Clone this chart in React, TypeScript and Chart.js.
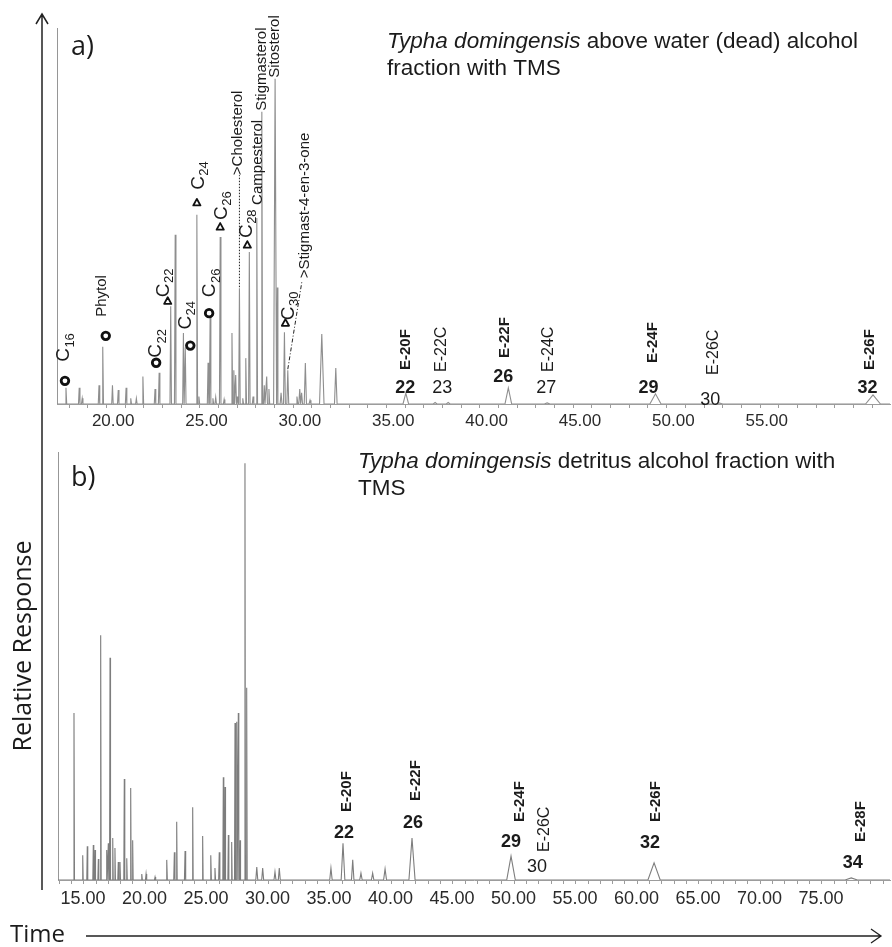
import React, { useEffect, useRef } from 'react';
import { Chart, registerables } from 'chart.js';

Chart.register(...registerables);

const SANS = '"Liberation Sans", Arial, sans-serif';
const ROUND = '"Open Sans", "Liberation Sans", sans-serif';
const INK = '#1b1b1b';

// ---------- panel a) above water (dead) ----------
const A_RANGE = [16.35, 60.96];
// retention time (min), relative response (%), half width (min)
const A_RT = [16.83, 17.54, 17.7, 18.6, 18.8, 19.32, 19.63, 20.05, 20.3, 20.6, 20.95, 21.6, 21.82, 22.44, 22.68, 23.12, 23.22, 23.84, 23.95, 24.44, 24.55, 24.7, 24.85, 25.09, 25.3, 25.72, 25.82, 25.92, 26.0, 26.12, 26.3, 26.46, 26.65, 26.85, 27.05, 27.32, 27.45, 27.58, 27.7, 28.03, 28.15, 28.35, 28.53, 28.71, 29.2, 29.35, 29.45, 29.65, 29.9, 30.53, 31.28, 35.03, 36.6, 37.3, 40.52, 42.6, 48.4, 51.8, 60.05];
const A_HEIGHT = [4.3, 4.3, 1.5, 5, 15.2, 5, 3.7, 4.3, 1.5, 1.5, 7.3, 4, 8.3, 26, 45, 18.9, 15, 50.3, 2, 11, 23.1, 1.5, 1.8, 44.4, 1.2, 18.9, 9, 7.7, 2, 30.8, 1.5, 12.2, 40.4, 2, 49.5, 77.7, 5, 7.3, 4, 86.5, 31, 3, 19.1, 9, 2, 4, 3, 10.9, 1, 18.6, 9.6, 2.9, 0.4, 0.4, 4.3, 0.3, 2.7, 0.3, 2.4];
const A_HALF = [0.04, 0.04, 0.04, 0.04, 0.04, 0.04, 0.04, 0.04, 0.04, 0.04, 0.04, 0.04, 0.04, 0.04, 0.04, 0.04, 0.04, 0.04, 0.04, 0.04, 0.04, 0.04, 0.04, 0.04, 0.04, 0.04, 0.04, 0.04, 0.04, 0.04, 0.04, 0.04, 0.04, 0.04, 0.04, 0.04, 0.04, 0.04, 0.04, 0.08, 0.03, 0.05, 0.05, 0.05, 0.05, 0.05, 0.05, 0.06, 0.05, 0.12, 0.07, 0.15, 0.1, 0.1, 0.18, 0.15, 0.3, 0.2, 0.4];
const A_TICKS = [20, 25, 30, 35, 40, 45, 50, 55];
const A_TICK_LABELS = ['20.00', '25.00', '30.00', '35.00', '40.00', '45.00', '50.00', '55.00'];

const A_COMPOUND_RT = [16.83, 18.8, 21.82, 22.44, 23.22, 23.84, 24.55, 25.09, 26.12, 26.65, 27.05, 27.32, 28.03, 28.53, 28.71];
const A_COMPOUND_NAMES = ['C16', 'Phytol', 'C22', 'C22', 'C24', 'C24', 'C26', 'C26', 'Cholesterol', 'C28', 'Campesterol', 'Stigmasterol', 'Sitosterol', 'C30', 'Stigmast-4-en-3-one'];
const A_COMPOUND_GROUP = ['alcohol', 'alcohol', 'alcohol', 'alkane', 'alcohol', 'alkane', 'alcohol', 'alkane', 'sterol', 'alkane', 'sterol', 'sterol', 'sterol', 'alkane', 'sterol'];

const A_ESTER_RT = [35.03, 36.95, 40.52, 42.66, 48.4, 51.49, 60.05];
const A_ESTER_NAMES = ['E-20F', 'E-22C', 'E-22F', 'E-24C', 'E-24F', 'E-26C', 'E-26F'];
const A_ESTER_NUMBERS = ['22', '23', '26', '27', '29', '30', '32'];

// ---------- panel b) detritus ----------
const B_RANGE = [11.91, 79.55];
const B_RT = [13.21, 13.92, 14.29, 14.78, 14.92, 15.19, 15.38, 15.87, 16.0, 16.14, 16.36, 16.54, 16.81, 16.95, 17.3, 17.5, 17.82, 17.98, 18.72, 19.07, 19.8, 20.75, 21.37, 21.56, 22.24, 22.86, 23.67, 24.33, 24.67, 25.02, 25.35, 25.49, 25.76, 26.03, 26.3, 26.44, 26.57, 26.71, 27.11, 27.25, 28.07, 28.55, 29.55, 29.9, 34.1, 35.08, 35.87, 36.54, 37.49, 38.5, 40.69, 48.74, 60.37, 76.4];
const B_HEIGHT = [39, 5.8, 7.9, 8.2, 7, 4.9, 57.2, 7, 8.6, 51.9, 9.8, 7.5, 4.2, 4.2, 23.6, 5.1, 21.5, 9.3, 1.4, 1.4, 0.7, 4.7, 6.5, 13.6, 6.8, 17, 10.3, 5.8, 2.8, 6.5, 24, 21.7, 10.5, 8.9, 36.7, 37, 39, 9.3, 97.4, 44.9, 3, 2.8, 1.9, 2.8, 2.8, 8.6, 4.7, 1.6, 1.6, 2.6, 9.8, 5.6, 4, 0.5];
const B_HALF = [0.04, 0.04, 0.04, 0.04, 0.04, 0.04, 0.04, 0.04, 0.04, 0.04, 0.04, 0.04, 0.04, 0.04, 0.04, 0.04, 0.04, 0.04, 0.05, 0.05, 0.05, 0.05, 0.05, 0.04, 0.05, 0.04, 0.04, 0.05, 0.05, 0.05, 0.04, 0.04, 0.04, 0.04, 0.04, 0.04, 0.04, 0.04, 0.04, 0.04, 0.08, 0.08, 0.08, 0.08, 0.1, 0.15, 0.1, 0.1, 0.1, 0.12, 0.25, 0.35, 0.5, 0.5];
const B_TICKS = [15, 20, 25, 30, 35, 40, 45, 50, 55, 60, 65, 70, 75];
const B_TICK_LABELS = ['15.00', '20.00', '25.00', '30.00', '35.00', '40.00', '45.00', '50.00', '55.00', '60.00', '65.00', '70.00', '75.00'];

const B_ESTER_RT = [35.08, 40.69, 48.74, 50.85, 60.37, 76.4];
const B_ESTER_NAMES = ['E-20F', 'E-22F', 'E-24F', 'E-26C', 'E-26F', 'E-28F'];
const B_ESTER_NUMBERS = ['22', '26', '29', '30', '32', '34'];

const A_TITLE: [string, boolean][][] = [
  [['Typha domingensis', true], [' above water (dead) alcohol', false]],
  [['fraction with TMS', false]],
];
const B_TITLE: [string, boolean][][] = [
  [['Typha domingensis', true], [' detritus alcohol fraction with', false]],
  [['TMS', false]],
];

// label placement, px offsets from the peak apex (dx, dy)
const A_COMPOUND_LAYOUT = [
  { m: [-1, -7], l: [-2, -26] },
  { m: [3, -11], l: [-1, -30] },
  { m: [-3, -10], l: [-3, -15] },
  { m: [-3, -5], l: [-7, -9] },
  { m: [5, -2], l: [0, -18] },
  { m: [0, -12], l: [2, -25] },
  { m: [-1, -4], l: [0, -20] },
  { m: [0, -10], l: [1.5, -17] },
  { l: [-2, -113], dotted: [0, -1, 0, -113] },
  { m: [-2, -7], l: [-3, -14] },
  { l: [1, -13] },
  { l: [0.5, -1] },
  { l: [0, -1] },
  { m: [1, -9], l: [4, -12] },
  { l: [17, -92], dashdot: [0, -1, 14, -88] },
];
// ester labels, px offsets from the baseline under the peak
const A_ESTER_LAYOUT = [
  { l: [0, -34], n: [-0.5, -11] },
  { l: [0, -32], n: [0.5, -11] },
  { l: [-3, -46], n: [-5, -22] },
  { l: [0, -32], n: [-2, -11] },
  { l: [-3, -41], n: [-7, -11] },
  { l: [0, -29], n: [-3, 1] },
  { l: [-3.5, -34], n: [-5.5, -11] },
];
const B_ESTER_LAYOUT = [
  { l: [3.5, -68], n: [1, -42] },
  { l: [3.5, -79], n: [1, -52] },
  { l: [9, -58], n: [0, -33] },
  { l: [8, -28], n: [0, -8] },
  { l: [2, -58], n: [-4, -32] },
  { l: [9.5, -38], n: [1.5, -12] },
];

type Pt = { x: number; y: number };

function traceFrom(range: number[], rt: number[], h: number[], half: number[]): Pt[] {
  const pts: Pt[] = [{ x: range[0] + 0.01, y: 100 }, { x: range[0] + 0.02, y: 0 }];
  let last = range[0] + 0.02;
  for (let i = 0; i < rt.length; i++) {
    const left = Math.max(rt[i] - half[i], last);
    pts.push({ x: left, y: 0 }, { x: rt[i], y: h[i] });
    last = rt[i] + half[i];
    pts.push({ x: last, y: 0 });
  }
  pts.push({ x: range[1], y: 0 });
  return pts;
}

function stepTicks(range: number[]) {
  const out: number[] = [];
  for (let v = Math.ceil(range[0]); v <= Math.floor(range[1]); v++) out.push(v);
  return out;
}

function upText(ctx: CanvasRenderingContext2D, text: string, x: number, y: number, font: string) {
  ctx.save();
  ctx.translate(x, y);
  ctx.rotate(-Math.PI / 2);
  ctx.font = font;
  ctx.fillStyle = INK;
  ctx.textAlign = 'left';
  ctx.textBaseline = 'middle';
  ctx.fillText(text, 0, 0);
  ctx.restore();
}

function upCarbon(ctx: CanvasRenderingContext2D, name: string, x: number, y: number) {
  ctx.save();
  ctx.translate(x, y);
  ctx.rotate(-Math.PI / 2);
  ctx.fillStyle = INK;
  ctx.textAlign = 'left';
  ctx.textBaseline = 'middle';
  ctx.font = `19px ${SANS}`;
  ctx.fillText('C', 0, 0);
  const w = ctx.measureText('C').width;
  ctx.font = `13px ${SANS}`;
  ctx.fillText(name.slice(1), w + 0.5, 6);
  ctx.restore();
}

function ring(ctx: CanvasRenderingContext2D, x: number, y: number) {
  ctx.save();
  ctx.beginPath();
  ctx.arc(x, y, 3.8, 0, Math.PI * 2);
  ctx.fillStyle = '#fff';
  ctx.fill();
  ctx.lineWidth = 2.8;
  ctx.strokeStyle = '#111';
  ctx.stroke();
  ctx.restore();
}

function tri(ctx: CanvasRenderingContext2D, x: number, y: number) {
  ctx.save();
  ctx.beginPath();
  ctx.moveTo(x, y - 4);
  ctx.lineTo(x + 3.6, y + 2.6);
  ctx.lineTo(x - 3.6, y + 2.6);
  ctx.closePath();
  ctx.lineWidth = 1.8;
  ctx.lineJoin = 'round';
  ctx.strokeStyle = '#111';
  ctx.stroke();
  ctx.restore();
}

function drawTitle(ctx: CanvasRenderingContext2D, lines: [string, boolean][][], x: number, y0: number, lh: number) {
  ctx.save();
  ctx.fillStyle = INK;
  ctx.textBaseline = 'alphabetic';
  ctx.textAlign = 'left';
  lines.forEach((parts, i) => {
    let cx = x;
    for (const [txt, ital] of parts) {
      ctx.font = `${ital ? 'italic ' : ''}22.5px ${SANS}`;
      ctx.fillText(txt, cx, y0 + i * lh);
      cx += ctx.measureText(txt).width;
    }
  });
  ctx.restore();
}

function drawEsters(chart: any, rts: number[], names: string[], nums: string[], layout: any[]) {
  const ctx: CanvasRenderingContext2D = chart.ctx;
  const xs = chart.scales.x;
  const base = chart.scales.y.getPixelForValue(0);
  rts.forEach((rt, i) => {
    const px = xs.getPixelForValue(rt);
    const bold = names[i].endsWith('F');
    const lay = layout[i];
    upText(ctx, names[i], px + lay.l[0], base + lay.l[1], `${bold ? 'bold 15px' : '16px'} ${SANS}`);
    ctx.save();
    ctx.font = `${bold ? 'bold ' : ''}18px ${SANS}`;
    ctx.fillStyle = INK;
    ctx.textAlign = 'center';
    ctx.textBaseline = 'alphabetic';
    ctx.fillText(nums[i], px + lay.n[0], base + lay.n[1]);
    ctx.restore();
  });
}

function xAxis(range: number[], ticks: number[], labels: string[], size: number, pad: number, offset: number, height: number) {
  return {
    type: 'linear',
    min: range[0],
    max: range[1],
    afterBuildTicks: (scale: any) => {
      scale.ticks = stepTicks(range).map((v) => ({ value: v }));
    },
    afterFit: (scale: any) => {
      scale.height = height;
    },
    grid: { display: true, drawOnChartArea: false, drawTicks: true, tickLength: 4, color: '#9c9c9c', lineWidth: 1 },
    border: { display: true, color: '#9c9c9c', width: 1 },
    ticks: {
      autoSkip: false,
      maxRotation: 0,
      minRotation: 0,
      padding: pad,
      labelOffset: offset,
      color: '#2a2a2a',
      font: { family: SANS, size },
      callback: (v: number) => {
        const k = ticks.indexOf(Math.round(v));
        return k >= 0 && Math.abs(v - ticks[k]) < 1e-6 ? labels[k] : '';
      },
    },
  };
}

const panelA = {
  id: 'panelA',
  afterDatasetsDraw(chart: any) {
    const ctx: CanvasRenderingContext2D = chart.ctx;
    const xs = chart.scales.x;
    const ys = chart.scales.y;
    ctx.save();
    // response axis with arrow
    ctx.strokeStyle = '#222';
    ctx.lineWidth = 1.5;
    ctx.beginPath();
    ctx.moveTo(42, 14);
    ctx.lineTo(42, 440);
    ctx.moveTo(36, 24);
    ctx.lineTo(42, 14);
    ctx.lineTo(48, 24);
    ctx.stroke();
    ctx.restore();

    ctx.save();
    ctx.font = `27px ${ROUND}`;
    ctx.fillStyle = INK;
    ctx.fillText('a)', 71, 55);
    ctx.restore();
    drawTitle(ctx, A_TITLE, 387, 48, 27);

    A_COMPOUND_RT.forEach((rt, i) => {
      const k = A_RT.indexOf(rt);
      const px = xs.getPixelForValue(rt);
      const py = ys.getPixelForValue(A_HEIGHT[k]);
      const lay: any = A_COMPOUND_LAYOUT[i];
      const g = A_COMPOUND_GROUP[i];
      if (lay.m) {
        if (g === 'alcohol') ring(ctx, px + lay.m[0], py + lay.m[1]);
        else tri(ctx, px + lay.m[0], py + lay.m[1]);
      }
      if (lay.dotted || lay.dashdot) {
        const seg = lay.dotted || lay.dashdot;
        ctx.save();
        ctx.strokeStyle = '#222';
        ctx.lineWidth = 1;
        ctx.setLineDash(lay.dotted ? [1.5, 1.5] : [4, 2, 1, 2]);
        ctx.beginPath();
        ctx.moveTo(px + seg[0], py + seg[1]);
        ctx.lineTo(px + seg[2], py + seg[3]);
        ctx.stroke();
        ctx.restore();
      }
      const name = A_COMPOUND_NAMES[i];
      if (/^C\d+$/.test(name)) upCarbon(ctx, name, px + lay.l[0], py + lay.l[1]);
      else {
        const arrow = lay.dotted || lay.dashdot ? '>' : '';
        upText(ctx, arrow + name, px + lay.l[0], py + lay.l[1], `15px ${SANS}`);
      }
    });

    drawEsters(chart, A_ESTER_RT, A_ESTER_NAMES, A_ESTER_NUMBERS, A_ESTER_LAYOUT);
  },
};

const panelB = {
  id: 'panelB',
  afterDatasetsDraw(chart: any) {
    const ctx: CanvasRenderingContext2D = chart.ctx;
    ctx.save();
    ctx.strokeStyle = '#222';
    ctx.lineWidth = 1.5;
    ctx.beginPath();
    ctx.moveTo(42, 0);
    ctx.lineTo(42, 450);
    ctx.stroke();
    // time arrow
    ctx.lineWidth = 1.3;
    ctx.beginPath();
    ctx.moveTo(86, 496);
    ctx.lineTo(881, 496);
    ctx.moveTo(871, 489);
    ctx.lineTo(881, 496);
    ctx.lineTo(871, 503);
    ctx.stroke();
    ctx.restore();

    ctx.save();
    ctx.fillStyle = INK;
    ctx.font = `24px ${ROUND}`;
    ctx.textBaseline = 'alphabetic';
    ctx.fillText('Time', 10, 502);
    ctx.font = `27px ${ROUND}`;
    ctx.fillText('b)', 71, 46);
    ctx.translate(31, 206);
    ctx.rotate(-Math.PI / 2);
    ctx.font = `25px ${ROUND}`;
    ctx.textAlign = 'center';
    ctx.fillText('Relative Response', 0, 0);
    ctx.restore();

    drawTitle(ctx, B_TITLE, 358, 28, 27);
    drawEsters(chart, B_ESTER_RT, B_ESTER_NAMES, B_ESTER_NUMBERS, B_ESTER_LAYOUT);
  },
};

function makeChart(canvas: HTMLCanvasElement, data: Pt[], color: string, xOpts: any, padding: any, plugin: any) {
  return new Chart(canvas, {
    type: 'line',
    data: {
      datasets: [
        {
          data,
          borderColor: color,
          borderWidth: 1.1,
          pointRadius: 0,
          fill: false,
          tension: 0,
        },
      ],
    },
    options: {
      animation: false,
      responsive: false,
      maintainAspectRatio: false,
      events: [],
      layout: { padding },
      plugins: { legend: { display: false }, tooltip: { enabled: false } },
      scales: {
        x: xOpts,
        y: { display: false, min: 0, max: 100 },
      },
    } as any,
    plugins: [plugin],
  });
}

export default function App() {
  const topRef = useRef<HTMLCanvasElement>(null);
  const botRef = useRef<HTMLCanvasElement>(null);

  useEffect(() => {
    const a = makeChart(
      topRef.current!,
      traceFrom(A_RANGE, A_RT, A_HEIGHT, A_HALF),
      '#8e8e8e',
      xAxis(A_RANGE, A_TICKS, A_TICK_LABELS, 17, 3, -12, 36),
      { left: 57, right: 2, top: 28, bottom: 0 },
      panelA
    );
    const b = makeChart(
      botRef.current!,
      traceFrom(B_RANGE, B_RT, B_HEIGHT, B_HALF),
      '#7d7d7d',
      xAxis(B_RANGE, B_TICKS, B_TICK_LABELS, 18, 4, -13, 40),
      { left: 58, right: 2, top: 12, bottom: 27 },
      panelB
    );
    return () => {
      a.destroy();
      b.destroy();
    };
  }, []);

  return (
    <div style={{ position: 'absolute', left: 0, top: 0, width: 892, height: 947, background: '#fff' }}>
      <canvas ref={topRef} width={892} height={440} style={{ position: 'absolute', left: 0, top: 0, width: 892, height: 440 }} />
      <canvas ref={botRef} width={892} height={507} style={{ position: 'absolute', left: 0, top: 440, width: 892, height: 507 }} />
    </div>
  );
}
